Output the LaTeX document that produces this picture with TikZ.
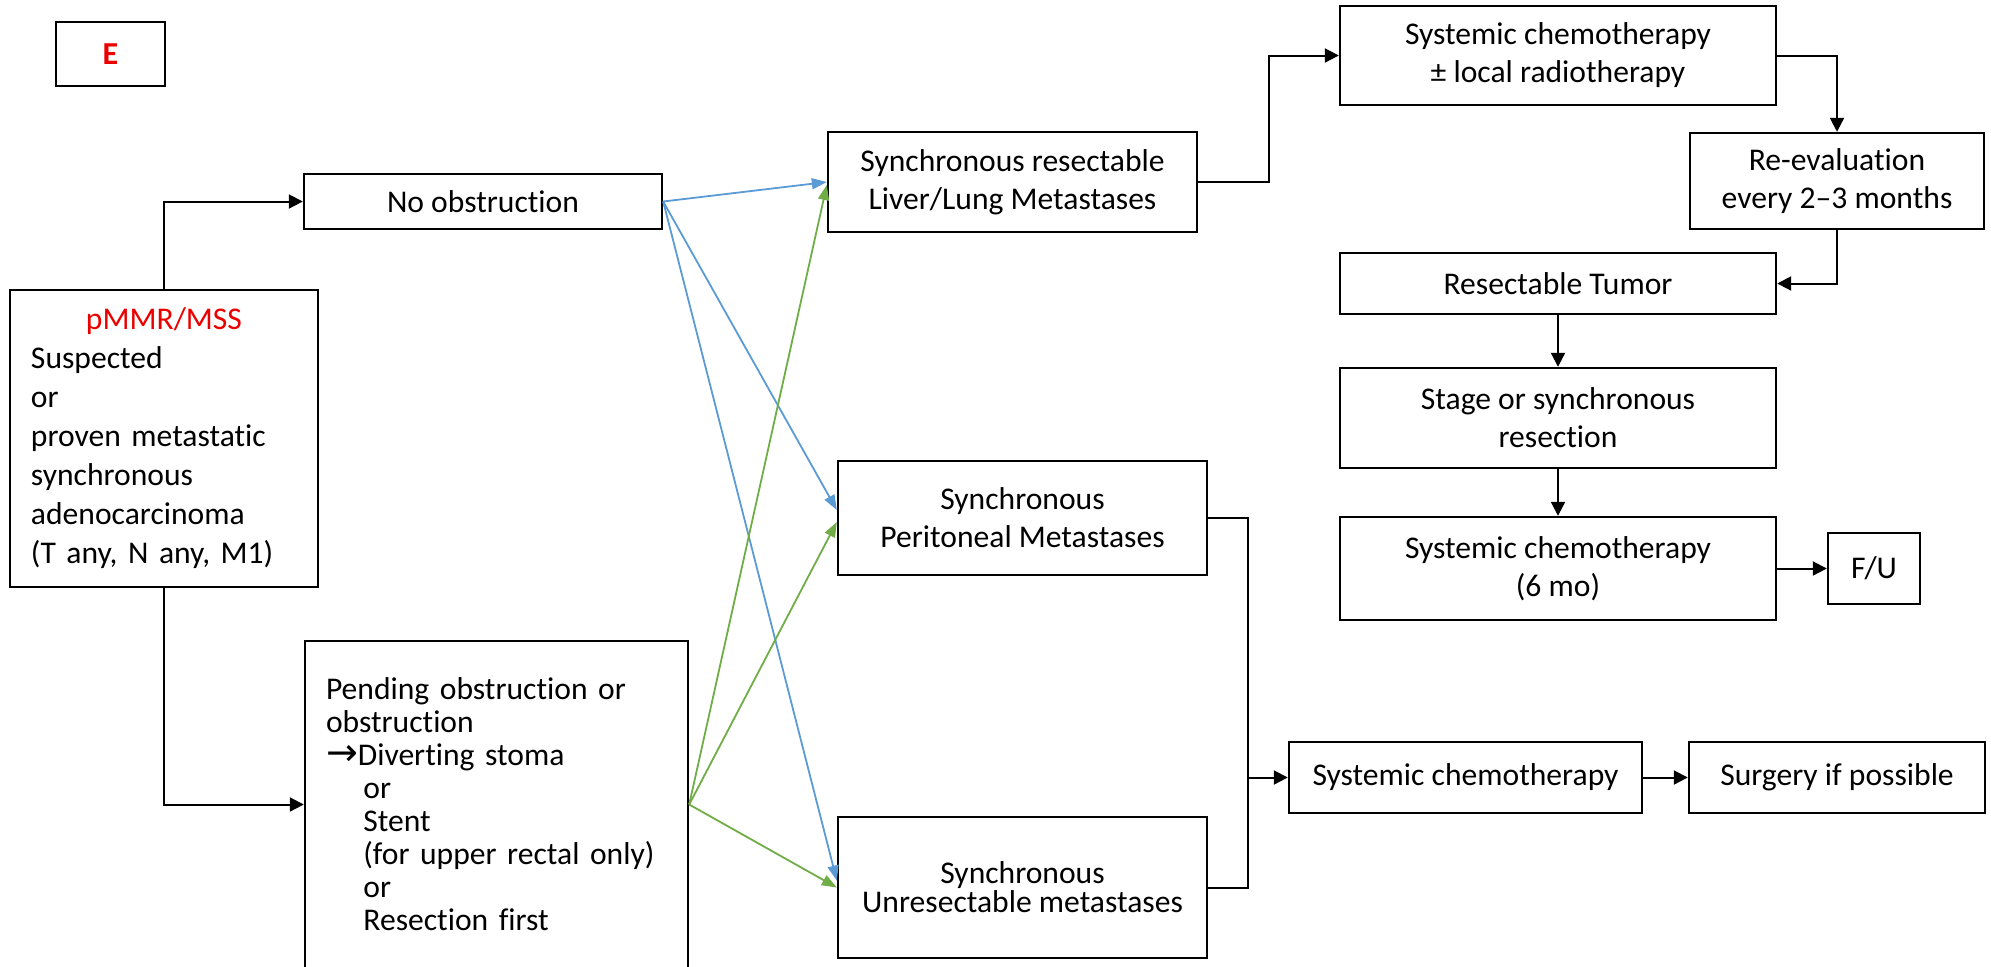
\documentclass[tikz,border=0pt]{standalone}
\usepackage{fontspec}
\setmainfont{Carlito}[Ligatures=NoCommon]
\newfontfamily\arrowfont{DejaVu Sans}
\usetikzlibrary{arrows.meta,positioning}
\definecolor{labred}{RGB}{235,0,0}
\definecolor{linkblue}{RGB}{91,155,213}
\definecolor{linkgreen}{RGB}{112,173,71}

\begin{document}
\begin{tikzpicture}[x=0.5pt, y=-0.5pt,
    box/.style={draw, line width=1.2pt, align=center, inner sep=0pt,
      font=\fontsize{15.8}{19}\selectfont},
    flow/.style={line width=1pt, -{Triangle[length=7pt,width=7pt]}},
    bluelink/.style={color=linkblue, line width=0.9pt, -{Triangle[length=7.5pt,width=5.5pt]}},
    greenlink/.style={color=linkgreen, line width=0.9pt, -{Triangle[length=7.5pt,width=5.5pt]}}
    ]
    \useasboundingbox (0,0) rectangle (1991,966);

    \node[box, minimum width=54.5pt, minimum height=32pt, text=labred,
      font=\bfseries\fontsize{16}{19}\selectfont] (tag) at (110.5,54) {E};

    \node[box, minimum width=154pt, minimum height=148.5pt, align=left, text width=133pt,
      font=\fontsize{15.8}{19.5}\selectfont] (pmmr) at (164,438.5)
      {\makebox[133pt]{\color{labred}pMMR/MSS}\\ Suspected\\ or\\ proven metastatic\\
       synchronous\\ adenocarcinoma\\ (T any, N any, M1)};
    \node[box, minimum width=179pt, minimum height=27.5pt] (noobs) at (483,201.5) {No obstruction};
    \node[box, minimum width=191.5pt, minimum height=163.5pt, align=left, text width=170.5pt,
      font=\fontsize{15.8}{16.5}\selectfont] (pending) at (496.5,804.5)
      {Pending obstruction or\\ obstruction\\ {\arrowfont\fontsize{19}{16.5}\selectfont →}Diverting stoma\\
       \hspace*{18.7pt}or\\ \hspace*{18.7pt}Stent\\ \hspace*{18.7pt}(for upper rectal only)\\
       \hspace*{18.7pt}or\\ \hspace*{18.7pt}Resection first};

    \node[box, minimum width=184.5pt, minimum height=50pt] (syncres) at (1012.5,182)
      {Synchronous resectable\\ Liver/Lung Metastases};
    \node[box, minimum width=184.5pt, minimum height=57pt] (perit) at (1022.5,518)
      {Synchronous\\ Peritoneal Metastases};
    \node[box, minimum width=184.5pt, minimum height=70.5pt,
      font=\fontsize{15.8}{14.5}\selectfont] (unres) at (1022.5,887.5)
      {Synchronous\\ Unresectable metastases};

    \node[box, minimum width=218pt, minimum height=49.5pt] (chemoa) at (1558,55.5)
      {Systemic chemotherapy\\ ± local radiotherapy};
    \node[box, minimum width=147pt, minimum height=48pt] (reeval) at (1837,181)
      {Re-evaluation\\ every 2–3 months};
    \node[box, minimum width=218pt, minimum height=30.5pt] (restumor) at (1558,283.5) {Resectable Tumor};
    \node[box, minimum width=218pt, minimum height=50pt] (stage) at (1558,418)
      {Stage or synchronous\\ resection};
    \node[box, minimum width=218pt, minimum height=51.5pt] (chemob) at (1558,568.5)
      {Systemic chemotherapy\\ (6 mo)};
    \node[box, minimum width=46pt, minimum height=35.5pt] (fu) at (1874,568.5) {F/U};
    \node[box, minimum width=176.5pt, minimum height=35.5pt] (chemoc) at (1465.5,777.5) {Systemic chemotherapy};
    \node[box, minimum width=148pt, minimum height=35.5pt] (surgery) at (1837,777.5) {Surgery if possible};

    \coordinate (join) at (1248,777.5);

    \draw[flow] (pmmr.north) |- (noobs.west);
    \draw[flow] (pmmr.south) |- (pending.west);

    \draw[bluelink] (noobs.east) -- (syncres.west);
    \draw[bluelink] (noobs.east) -- ([yshift=4pt]perit.west);
    \draw[bluelink] (noobs.east) -- ([yshift=3.5pt]unres.west);
    \draw[greenlink] (pending.east) -- ([yshift=-1.5pt]syncres.west);
    \draw[greenlink] (pending.east) -- ([yshift=-2pt]perit.west);
    \draw[greenlink] (pending.east) -- (unres.west);

    \draw[flow] (syncres.east) -- ++(71,0) |- (chemoa.west);
    \draw[flow] (chemoa.east) -| (reeval.north);
    \draw[flow] (reeval.south) |- (restumor.east);
    \draw[flow] (restumor.south) -- (stage.north);
    \draw[flow] (stage.south) -- (chemob.north);
    \draw[flow] (chemob.east) -- (fu.west);

    \draw[line width=1pt] (perit.east) -| (join) |- (unres.east);
    \draw[flow] (join) -- (chemoc.west);
    \draw[flow] (chemoc.east) -- (surgery.west);
  \end{tikzpicture}
\end{document}
